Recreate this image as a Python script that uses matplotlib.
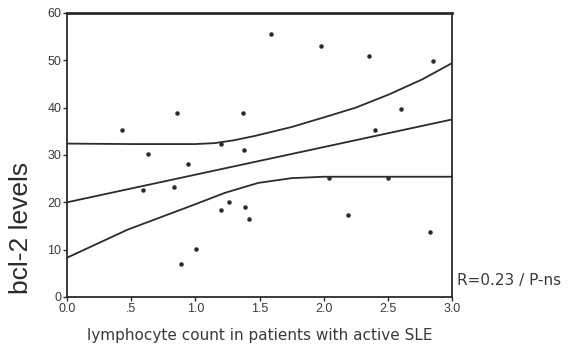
"""
bcl-2 levels versus lymphocyte count in patients with active SLE.
Scatter of individual patients with the fitted regression line and its
confidence band.
"""
from __future__ import annotations

import matplotlib

matplotlib.use("Agg")
import matplotlib.pyplot as plt

# individual patients
LYMPHOCYTES = [0.43, 0.59, 0.63, 0.83, 0.86, 0.89, 0.945, 1.005, 1.20, 1.20,
               1.26, 1.37, 1.38, 1.39, 1.42, 1.59, 1.98, 2.04, 2.19, 2.35,
               2.40, 2.50, 2.60, 2.83, 2.85]
BCL2 = [35.2, 22.5, 30.3, 23.2, 38.9, 7.0, 28.0, 10.1, 32.4, 18.4,
        20.0, 38.9, 31.0, 19.0, 16.5, 55.5, 53.0, 25.1, 17.4, 50.9,
        35.2, 25.1, 39.8, 13.8, 49.8]

# fitted line
FIT_X = [0.0, 3.0]
FIT_Y = [20.0, 37.5]

# confidence band
UPPER_X = [0.0, 0.5, 1.0, 1.15, 1.3, 1.46, 1.75, 2.07, 2.25, 2.51, 2.77, 3.0]
UPPER_Y = [32.4, 32.3, 32.3, 32.5, 33.1, 34.0, 35.9, 38.5, 40.0, 42.8, 46.0, 49.4]
LOWER_X = [0.0, 0.47, 1.0, 1.23, 1.49, 1.75, 2.0, 2.5, 3.0]
LOWER_Y = [8.3, 14.2, 19.6, 22.0, 24.1, 25.1, 25.4, 25.4, 25.4]

X_TICKS = [0.0, 0.5, 1.0, 1.5, 2.0, 2.5, 3.0]
X_TICK_LABELS = ["0.0", ".5", "1.0", "1.5", "2.0", "2.5", "3.0"]
Y_TICKS = [0, 10, 20, 30, 40, 50, 60]

INK = "#2b2b2b"
TEXT_INK = "#3a3a3a"
FONT = "Liberation Sans"


def plot_bcl2(output_path: str = "out.png") -> None:
    fig = plt.figure(figsize=(5.73, 3.49), dpi=100)
    ax = fig.add_axes([0.117, 0.149, 0.672, 0.814])

    ax.plot(UPPER_X, UPPER_Y, color=INK, lw=1.3)
    ax.plot(FIT_X, FIT_Y, color=INK, lw=1.3)
    ax.plot(LOWER_X, LOWER_Y, color=INK, lw=1.3)
    ax.scatter(LYMPHOCYTES, BCL2, s=5, color=INK, zorder=3)

    ax.set_xlim(0, 3.0)
    ax.set_ylim(0, 60)
    ax.set_xticks(X_TICKS)
    ax.set_xticklabels(X_TICK_LABELS)
    ax.set_yticks(Y_TICKS)
    ax.tick_params(direction="out", length=3, width=1, color=INK,
                   labelsize=9, labelcolor=TEXT_INK, pad=1)
    for lab in ax.get_xticklabels() + ax.get_yticklabels():
        lab.set_family(FONT)

    for side, spine in ax.spines.items():
        spine.set_color(INK)
        spine.set_linewidth(2.0 if side == "top" else 1.3)

    ax.set_xlabel("lymphocyte count in patients with active SLE",
                  family="DejaVu Sans", fontsize=11, color=TEXT_INK)
    ax.xaxis.set_label_coords(0.5, -0.11)
    ax.set_ylabel("bcl-2 levels", family=FONT, fontsize=19, color=INK)
    ax.yaxis.set_label_coords(-0.088, 0.243)

    fig.text(0.797, 0.196, "R=0.23 / P-ns", family="DejaVu Sans",
             fontsize=11, color=TEXT_INK, va="center")

    fig.savefig(output_path, dpi=100, facecolor="white")
    plt.close(fig)


if __name__ == "__main__":
    plot_bcl2()
